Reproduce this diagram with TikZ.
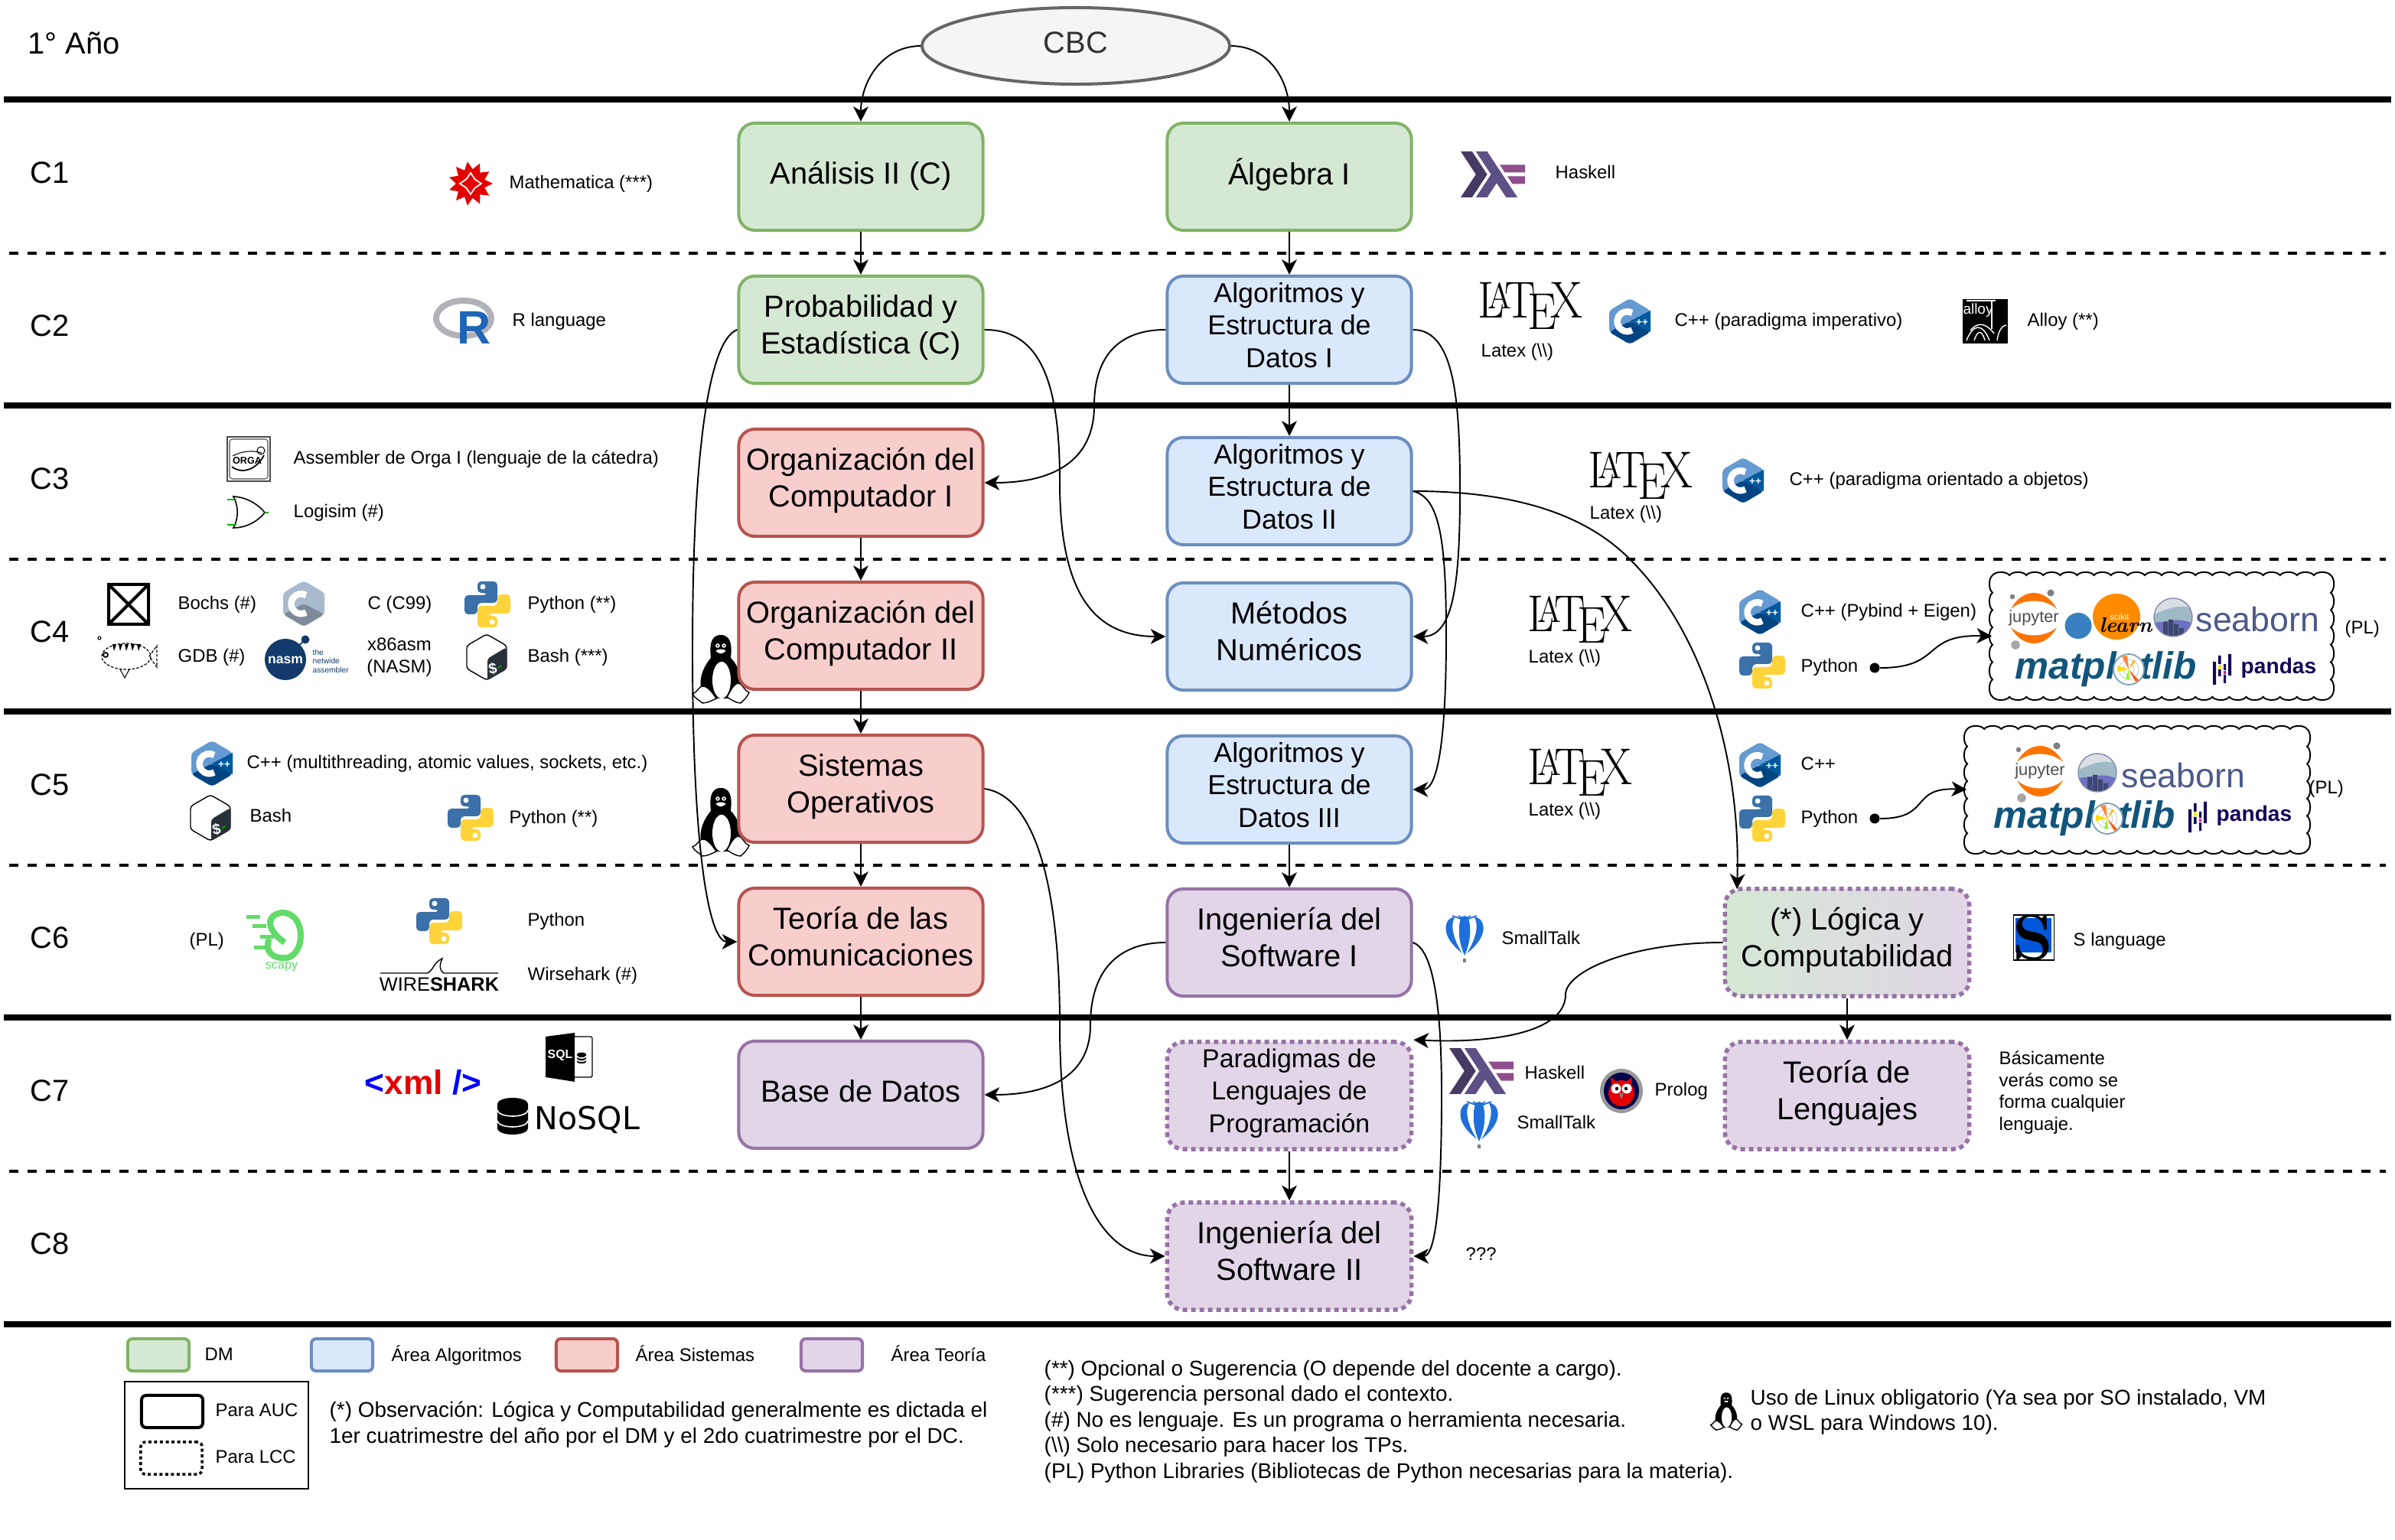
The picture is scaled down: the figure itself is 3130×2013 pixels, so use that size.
\documentclass[tikz,border=0pt]{standalone}
\usepackage{fontspec}
\setsansfont{Liberation Sans}
\newfontfamily\dejavufont{DejaVu Sans}
\renewcommand{\familydefault}{\sfdefault}
\usetikzlibrary{arrows.meta,shapes.geometric}

\definecolor{dmfill}{HTML}{D5E8D4}
\definecolor{dmline}{HTML}{82B366}
\definecolor{algofill}{HTML}{DAE8FC}
\definecolor{algoline}{HTML}{6C8EBF}
\definecolor{sisfill}{HTML}{F8CECC}
\definecolor{sisline}{HTML}{B85450}
\definecolor{teofill}{HTML}{E1D5E7}
\definecolor{teoline}{HTML}{9673A6}
\definecolor{pyblue}{HTML}{3B70A8}
\definecolor{pyyellow}{HTML}{FFD43B}
\definecolor{mplblue}{HTML}{11557C}
\definecolor{pandasblue}{HTML}{150458}
\definecolor{seacolor}{HTML}{4C5A8A}
\definecolor{cpplight}{HTML}{659AD2}
\definecolor{cppmid}{HTML}{00599C}
\definecolor{cppdark}{HTML}{004482}
\definecolor{clight}{HTML}{A9BACF}
\definecolor{cdark}{HTML}{7F8B99}
\definecolor{bashdark}{HTML}{293138}
\definecolor{haskA}{HTML}{453A62}
\definecolor{haskB}{HTML}{5E5086}
\definecolor{haskC}{HTML}{8F4E8B}
\definecolor{scapygreen}{HTML}{63DB6B}
\definecolor{rblue}{HTML}{1F65B7}
\definecolor{rgray}{HTML}{B0B2B8}
\definecolor{nasmblue}{HTML}{123A6B}
\definecolor{balloonblue}{HTML}{1E6FD9}

\newcommand{\fsbig}{\fontsize{11.33}{13.66}\selectfont}
\newcommand{\fsmid}{\fontsize{10.2}{12.1}\selectfont}
\newcommand{\fsplp}{\fontsize{9.62}{12.1}\selectfont}
\newcommand{\fsnote}{\fontsize{7.93}{9.5}\selectfont}
\newcommand{\fstool}{\fontsize{6.8}{8.2}\selectfont}
\newcommand{\boxstrut}{\rule[-.3\baselineskip]{0pt}{1.1\baselineskip}}

% hexagon with a C, used by the C and C++ logos
\newcommand{\hexC}[3]{
    \fill[#1, rounded corners=1.2pt] (0,-30) -- (27,-14) -- (27,14) -- (0,30) -- (-27,14) -- (-27,-14) -- cycle;
    \fill[#3] (27,-14) -- (27,14) -- (0,0) -- cycle;
    \fill[#2, rounded corners=1.2pt] (-27,14) -- (0,0) -- (27,14) -- (0,30) -- cycle;
    \draw[white, line width=0.085cm] (3,-11) arc (-60:-300:13);
}

% scalloped border: left, top, bumps across, step, bumps down, step
\newcommand{\scallop}[6]{
    \draw[line width=0.55pt] (#1,#2)
        \foreach \i in {1,...,#3} { .. controls +(4,-5.5) and +(-4,-5.5) .. ++(#4,0) }
        \foreach \i in {1,...,#5} { .. controls +(5.5,4) and +(5.5,-4) .. ++(0,#6) }
        \foreach \i in {1,...,#3} { .. controls +(-4,5.5) and +(4,5.5) .. ++(-#4,0) }
        \foreach \i in {1,...,#5} { .. controls +(-5.5,-4) and +(-5.5,4) .. ++(0,-#6) } -- cycle;
}

\tikzset{
    subject/.style={rectangle, rounded corners=0.21cm, line width=0.04cm, minimum width=3.19cm, minimum height=1.4cm, inner sep=0pt, align=center, font=\fsbig, execute at begin node=\strut, execute at end node=\strut},
    multi/.style={execute at begin node=\boxstrut},
    midtext/.style={multi, font=\fsmid},
    plptext/.style={multi, font=\fsplp},
    dmbox/.style={subject, draw=dmline, fill=dmfill},
    algobox/.style={subject, draw=algoline, fill=algofill},
    sisbox/.style={subject, draw=sisline, fill=sisfill},
    teobox/.style={subject, draw=teoline, fill=teofill},
    lcc/.style={line width=0.055cm, dash pattern=on 0.06cm off 0.05cm},
    flow/.style={->, line width=0.55pt, >={Stealth[length=5.6pt, width=5.6pt, inset=1.6pt]}},
    yearline/.style={line width=0.08cm},
    termline/.style={line width=0.035cm, dash pattern=on 0.12cm off 0.12cm},
    term/.style={anchor=west, inner sep=0pt, font=\fsbig},
    tool/.style={anchor=west, inner sep=0pt, yshift=-0.03cm, font=\fstool, align=left, execute at begin node=\strut, execute at end node=\strut},
    note/.style={anchor=west, inner sep=0pt, font=\fsnote, align=left},
    latexlogo/.style={inner sep=0pt, yscale=1.12, transform shape, font=\rmfamily\fontsize{17.2}{18}\selectfont},
    cloudbox/.style={minimum width=4.42cm, minimum height=1.59cm},
    startdot/.style={circle, fill=black, minimum size=0.13cm, inner sep=0pt},
    swatch/.style={rectangle, rounded corners=0.06cm, line width=0.04cm, minimum width=0.8cm, minimum height=0.42cm},
    % logos
    pythonlogo/.pic={
        \fill[pyblue, rounded corners=1.4pt] (-13,-30) -- (13,-30) -- (13,-2) -- (-13,-2) -- (-13,13) -- (-30,13) -- (-30,-12) -- (0,-12) -- (0,-15) -- (-13,-15) -- cycle;
        \fill[pyyellow, rounded corners=1.4pt] (13,30) -- (-13,30) -- (-13,2) -- (13,2) -- (13,-13) -- (30,-13) -- (30,12) -- (0,12) -- (0,15) -- (13,15) -- cycle;
        \fill[white] (-6,-23) circle [radius=3.5];
        \fill[white] (6,23) circle [radius=3.5];
    },
    cpplogo/.pic={
        \hexC{cpplight}{cppdark}{cppmid}
        \node[white, inner sep=0pt, font=\bfseries\fontsize{3.8}{4}\selectfont] at (16,2) {++};
    },
    clogo/.pic={
        \hexC{clight}{cdark}{clight}
    },
    bashlogo/.pic={
        \filldraw[fill=white, draw=black, line width=0.4pt, rounded corners=1pt] (0,-30) -- (26,-15) -- (26,15) -- (0,30) -- (-26,15) -- (-26,-15) -- cycle;
        \fill[bashdark, rounded corners=1pt] (1,30) -- (1,2) -- (26,-13) -- (26,15) -- cycle;
        \node[white, inner sep=0pt, rotate=10, font=\bfseries\fontsize{5.5}{6}\selectfont] at (8,15) {\$};
        \draw[green!70!black, line width=0.4pt] (15,14) -- (19,11);
    },
    tuxlogo/.pic={
        \fill[black] (0,-45) .. controls (-16,-45) and (-14,-25) .. (-13,-15) .. controls (-30,5) and (-30,28) .. (-18,38) -- (18,38) .. controls (30,24) and (28,0) .. (13,-15) .. controls (14,-25) and (16,-45) .. (0,-45) -- cycle;
        \fill[white] (1,14) ellipse [x radius=12, y radius=24];
        \fill[white] (-4,-31) circle [radius=2.8];
        \fill[white] (4,-31) circle [radius=2.8];
        \fill[black] (-4,-31) circle [radius=1.2];
        \fill[black] (4,-31) circle [radius=1.2];
        \filldraw[fill=white, draw=black, line width=0.4pt] (-8,-25) .. controls (0,-28) and (0,-28) .. (8,-25) .. controls (3,-18) and (-3,-18) .. (-8,-25) -- cycle;
        \filldraw[fill=white, draw=black, line width=0.4pt] (-37,32) .. controls (-30,30) and (-28,20) .. (-22,22) .. controls (-15,24) and (-10,32) .. (-6,38) .. controls (-12,41) and (-18,44) .. (-24,44) .. controls (-28,40) and (-34,38) .. (-37,32) -- cycle;
        \filldraw[fill=white, draw=black, line width=0.4pt] (37,30) .. controls (30,28) and (28,17) .. (22,18) .. controls (15,21) and (12,30) .. (8,36) .. controls (14,40) and (20,44) .. (26,44) .. controls (30,40) and (35,36) .. (37,30) -- cycle;
    },
    balloonlogo/.pic={
        \fill[balloonblue] (-3,19) .. controls (-38,-8) and (-22,-30) .. (-13,-28) .. controls (-20,-15) and (-12,5) .. (-3,19) -- cycle;
        \fill[balloonblue] (3,19) .. controls (38,-8) and (22,-30) .. (13,-28) .. controls (20,-15) and (12,5) .. (3,19) -- cycle;
        \fill[balloonblue] (0,22) .. controls (-10,0) and (-8,-20) .. (-4,-29) -- (4,-29) .. controls (8,-20) and (10,0) .. (0,22) -- cycle;
        \foreach \a in {-16,-8,0,8,16} \draw[balloonblue, line width=0.5pt] (\a,-30) -- (0,-24);
        \fill[gray] (-2,26) rectangle (2,31);
    },
    haskelllogo/.pic={
        \begin{scope}[xscale=4.94, yscale=5, shift={(-8.5,-6)}]
            \fill[haskA] (0,12) -- (4,6) -- (0,0) -- (3,0) -- (7,6) -- (3,12) -- cycle;
            \fill[haskB] (4,12) -- (8,6) -- (4,0) -- (7,0) -- (15,12) -- (12,12) -- (9.5,8.25) -- (7,12) -- cycle;
            \fill[haskC] (13.66,8.5) -- (12.33,6.5) -- (17,6.5) -- (17,8.5) -- cycle;
            \fill[haskC] (11.66,5.5) -- (10.33,3.5) -- (17,3.5) -- (17,5.5) -- cycle;
        \end{scope}
    },
    jupyterlogo/.pic={
        \fill[orange!90!red] (-30,-12) .. controls (-15,-40) and (15,-40) .. (30,-12) .. controls (15,-26) and (-15,-26) .. (-30,-12) -- cycle;
        \fill[orange!90!red] (-30,12) .. controls (-15,40) and (15,40) .. (30,12) .. controls (15,26) and (-15,26) .. (-30,12) -- cycle;
        \fill[gray] (-28,-28) circle [radius=3.3];
        \fill[gray] (22,-33) circle [radius=4.6];
        \fill[gray!70] (-24,35) circle [radius=5.8];
        \node[black!70, inner sep=0pt, font=\fontsize{6.2}{7}\selectfont] at (0,0) {jupyter};
    },
    sealogo/.pic={
        \fill[white] (0,0) circle [radius=25];
        \begin{scope}
            \clip (0,0) circle [radius=25];
            \fill[cyan!15!gray!30] (-25,-25) rectangle (25,0);
            \fill[cyan!30!gray!70] (-25,-4) .. controls (-10,-10) and (5,-18) .. (25,-12) -- (25,25) -- (-25,25) -- cycle;
            \fill[blue!40!gray!80] (-25,7) .. controls (-5,5) and (10,0) .. (25,8) -- (25,25) -- (-25,25) -- cycle;
            \fill[seacolor!80!black] (-13,6) rectangle (-7,25) (-6,3) rectangle (0,25) (1,9) rectangle (7,25) (8,14) rectangle (14,25);
        \end{scope}
        \draw[seacolor!70!white, line width=0.4pt] (0,0) circle [radius=25];
    },
    mpllogo/.pic={
        \filldraw[fill=white, draw=cyan!30!gray, line width=0.5pt] (0,0) circle [radius=20];
        \draw[gray!50, line width=0.2pt] (0,0) circle [radius=7] (0,0) circle [radius=13];
        \fill[orange!80!red!80!white] (0,0) -- (-9,-17) -- (-2,-18) -- cycle;
        \fill[yellow!80!orange] (0,0) -- (-15,-5) -- (-15,3) -- cycle;
        \fill[orange!70!red] (0,0) -- (13,14) -- (9,16) -- cycle;
        \fill[green!50!yellow] (0,0) -- (0,13) -- (-4,13) -- cycle;
        \fill[orange!60!yellow] (0,0) -- (9,-11) -- (6,-12) -- cycle;
    },
    pandaslogo/.pic={
        \fill[pandasblue] (-12,-10) rectangle (-8,20) (-5,-18) rectangle (-1.5,-7) (-5,0) rectangle (-1.5,9) (2,-7) rectangle (5,1) (2,7) rectangle (5,18) (8,-20) rectangle (12,8);
        \fill[yellow!90!orange] (-5,-6) rectangle (-1.5,-1);
        \fill[magenta] (2,2) rectangle (5,6);
    },
    dblogo/.pic={
        \fill[black] (-20,-16) arc (180:360:20 and 8) -- (20,16) arc (0:180:20 and 8) -- cycle;
        \draw[white, line width=0.45pt] (-20,-8) arc (180:0:20 and 8) (-20,6) arc (180:0:20 and 8);
    }
}

\begin{document}
\begin{tikzpicture}[x=0.01cm, y=-0.01cm]
    \useasboundingbox (0,0) rectangle (3130,2013);

    % Year and term lines
    \foreach \yy in {130, 530, 930, 1330, 1731}
        \draw[yearline] (5,\yy) -- (3125,\yy);
    \foreach \yy in {331, 731, 1131, 1531}
        \draw[termline] (12,\yy) -- (3118,\yy);

    % Terms
    \node[term] (year) at (36,56) {1° Año};
    \node[term] (c1) at (39,226) {C1};
    \node[term] (c2) at (39,426) {C2};
    \node[term] (c3) at (39,626) {C3};
    \node[term] (c4) at (39,826) {C4};
    \node[term] (c5) at (39,1026) {C5};
    \node[term] (c6) at (39,1226) {C6};
    \node[term] (c7) at (39,1426) {C7};
    \node[term] (c8) at (39,1626) {C8};

    % Logos that sit behind the boxes
    \pic at (942,875) {tuxlogo};
    \pic at (942,1075) {tuxlogo};

    % Subjects
    \node[subject, draw=black!60, fill=black!4, text=black!80, ellipse, minimum width=4.02cm, minimum height=1cm] (cbc) at (1406,60) {CBC};
    \node[dmbox] (analisis) at (1125,231) {Análisis II (C)};
    \node[dmbox] (algebra) at (1685,231) {Álgebra I};
    \node[dmbox, multi] (proba) at (1125,431) {Probabilidad y\\Estadística (C)};
    \node[algobox, midtext] (aed1) at (1685,431) {Algoritmos y\\Estructura de\\Datos I};
    \node[sisbox, multi] (orga1) at (1125,631) {Organización del\\Computador I};
    \node[algobox, midtext] (aed2) at (1685,642) {Algoritmos y\\Estructura de\\Datos II};
    \node[sisbox, multi] (orga2) at (1125,831) {Organización del\\Computador II};
    \node[algobox, multi] (metnum) at (1685,832) {Métodos\\Numéricos};
    \node[sisbox, multi] (so) at (1125,1031) {Sistemas\\Operativos};
    \node[algobox, midtext] (aed3) at (1685,1032) {Algoritmos y\\Estructura de\\Datos III};
    \node[sisbox, multi] (tc) at (1125,1231) {Teoría de las\\Comunicaciones};
    \node[teobox, multi] (is1) at (1685,1232) {Ingeniería del\\Software I};
    \node[subject, multi, draw=teoline, lcc, left color=dmfill, right color=teofill] (logica) at (2414,1232) {(*) Lógica y\\Computabilidad};
    \node[teobox] (bd) at (1125,1431) {Base de Datos};
    \node[teobox, lcc, plptext] (plp) at (1685,1432) {Paradigmas de\\Lenguajes de\\Programación};
    \node[teobox, lcc, multi] (tleng) at (2414,1432) {Teoría de\\Lenguajes};
    \node[teobox, lcc, multi] (is2) at (1685,1642) {Ingeniería del\\Software II};
    \coordinate (logicain) at (2270,1162);

    % Straight arrows
    \draw[flow] (analisis) -- (proba);
    \draw[flow] (algebra) -- (aed1);
    \draw[flow] (aed1) -- (aed2);
    \draw[flow] (orga1) -- (orga2);
    \draw[flow] (orga2) -- (so);
    \draw[flow] (so) -- (tc);
    \draw[flow] (tc) -- (bd);
    \draw[flow] (aed3) -- (is1);
    \draw[flow] (logica) -- (tleng);
    \draw[flow] (plp) -- (is2);

    % Curved arrows
    \draw[flow] (cbc.west) .. controls (1150,61) and (1125,110) .. (analisis.north);
    \draw[flow] (cbc.east) .. controls (1662,61) and (1685,110) .. (algebra.north);
    \draw[flow] (aed1.west) .. controls (1450,431) and (1430,480) .. (1430,530) .. controls (1430,600) and (1380,631) .. (orga1.east);
    \draw[flow] (proba.east) .. controls (1360,431) and (1385,500) .. (1385,630) .. controls (1385,760) and (1420,832) .. (metnum.west);
    \draw[flow] (proba.west) .. controls (925,445) and (905,600) .. (905,850) .. controls (905,1100) and (925,1231) .. (tc.west);
    \draw[flow] (aed1.east) .. controls (1900,431) and (1908,520) .. (1908,640) .. controls (1908,760) and (1900,832) .. (metnum.east);
    \draw[flow] (aed2.east) .. controls (1880,650) and (1890,700) .. (1890,830) .. controls (1890,960) and (1880,1032) .. (aed3.east);
    \draw[flow] (aed2.east) .. controls (1950,642) and (2060,660) .. (2130,731) .. controls (2230,830) and (2275,1000) .. (logicain);
    \draw[flow] (so.east) .. controls (1350,1040) and (1385,1150) .. (1385,1340) .. controls (1385,1550) and (1440,1642) .. (is2.west);
    \draw[flow] (is1.west) .. controls (1460,1232) and (1425,1270) .. (1425,1340) .. controls (1425,1400) and (1380,1431) .. (bd.east);
    \draw[flow] (is1.east) .. controls (1870,1240) and (1884,1300) .. (1884,1430) .. controls (1884,1580) and (1875,1642) .. (is2.east);
    \draw[flow] (logica.west) .. controls (2130,1232) and (2046,1270) .. (2046,1300) .. controls (2046,1350) and (1950,1364) .. (plp.north east);

    % C1
    \begin{scope}[shift={(615,240)}]
        \fill[red!90!black] (0:29) \foreach \a in {1,...,11} {-- ({\a*360/11-16.4}:19) -- ({\a*360/11}:29)} -- cycle;
        \draw[white, line width=0.5pt] (90:14) -- (45:8) -- (0:14) -- (-45:8) -- (-90:14) -- (-135:8) -- (180:14) -- (135:8) -- cycle;
    \end{scope}
    \node[tool] (tmath) at (665,238) {Mathematica (***)};
    \pic at (1951,228) {haskelllogo};
    \node[tool] (thask) at (2032,225) {Haskell};

    % C2
    \draw[rgray, line width=0.08cm] (606,416) ellipse [x radius=36, y radius=23];
    \node[inner sep=0pt, text=rblue, font=\bfseries\fontsize{17.4}{18}\selectfont] (rlogo) at (620,428) {R};
    \node[tool] (trlang) at (669,418) {R language};
    \node[latexlogo] (latex1) at (2000,400) {\rmfamily\LaTeX};
    \node[tool] (tlatex1) at (1935,458) {Latex (\textbackslash\textbackslash)};
    \pic at (2130,420) {cpplogo};
    \node[tool] (tcpp1) at (2188,418) {C++ (paradigma imperativo)};
    \fill[black] (2565,391) rectangle (2624,449);
    \node[inner sep=0pt, white, font=\fontsize{5.4}{6}\selectfont] (talloylogo) at (2585,406) {alloy};
    \draw[white, line width=0.4pt] (2570,445) .. controls (2578,425) and (2590,420) .. (2600,445) (2610,445) .. controls (2612,430) and (2618,425) .. (2622,425);
    \draw[white, line width=0.4pt] (2580,445) .. controls (2584,432) and (2590,430) .. (2594,445) (2575,432) .. controls (2582,424) and (2592,418) .. (2606,436);
    \draw[white, line width=0.6pt] (2603,393) -- (2603,430) (2570,393) -- (2608,393);
    \node[tool] (talloy) at (2649,418) {Alloy (**)};

    % C3
    \filldraw[fill=white, draw=black!70, line width=0.5pt] (297,571) rectangle (353,629);
    \draw[black!70, line width=0.3pt, rounded corners=1pt] (300,574) rectangle (350,626);
    \node[inner sep=0pt, font=\bfseries\fontsize{3.6}{4}\selectfont] (orgalogo) at (323,602) {ORGA};
    \draw[line width=0.5pt] (303,610) .. controls (315,620) and (335,615) .. (345,595);
    \draw[line width=0.3pt] (304,596) .. controls (315,590) and (330,588) .. (342,592);
    \draw[line width=0.3pt] (341,589) circle [radius=5];
    \node[tool] (torga) at (383,598) {Assembler de Orga I (lenguaje de la cátedra)};
    \draw[line width=0.45pt] (305,649) .. controls (325,650) and (340,662) .. (346,670) .. controls (340,678) and (325,690) .. (305,690) .. controls (312,677) and (312,662) .. (305,649) -- cycle;
    \draw[green!70!black, line width=0.5pt] (297,653) -- (309,653) (297,686) -- (309,686) (346,670) -- (351,670);
    \node[tool] (tlogisim) at (383,668) {Logisim (\#)};
    \node[latexlogo] (latex2) at (2144,622) {\rmfamily\LaTeX};
    \node[tool] (tlatex2) at (2077,670) {Latex (\textbackslash\textbackslash)};
    \pic at (2278,628) {cpplogo};
    \node[tool] (tcpp2) at (2338,626) {C++ (paradigma orientado a objetos)};

    % C4
    \draw[line width=0.04cm] (142,764) rectangle (194,816) (142,764) -- (194,816) (194,764) -- (142,816);
    \node[tool] (tbochs) at (232,788) {Bochs (\#)};
    \pic at (397,789) {clogo};
    \node[tool] (tc99) at (480,788) {C (C99)};
    \pic at (637,790) {pythonlogo};
    \node[tool] (tpy1) at (689,788) {Python (**)};
    \begin{scope}[shift={(165,858)}]
        \draw[line width=0.35pt, dash pattern=on 1pt off 0.6pt] (0,0) ellipse [x radius=32, y radius=17];
        \draw[line width=0.35pt, dash pattern=on 1pt off 0.6pt] (30,0) -- (40,-14) -- (40,14) -- cycle;
        \draw[line width=0.5pt] (-27,-2) circle [radius=3];
        \foreach \a in {-18,-10,-2,6,14} \fill (\a,-16) -- (\a+5,-16) -- (\a+2,-7) -- cycle;
        \draw[line width=0.3pt] (-35,-24) circle [radius=2] (-8,17) -- (-2,28) -- (4,17);
    \end{scope}
    \node[tool] (tgdb) at (232,857) {GDB (\#)};
    \fill[nasmblue] (373,862) circle [radius=27];
    \fill[nasmblue] (399,836) circle [radius=5.5];
    \draw[nasmblue, line width=0.5pt] (399,836) -- (386,848);
    \node[inner sep=0pt, white, font=\bfseries\fontsize{5}{6}\selectfont] (nasmlogo) at (373,863) {nasm};
    \node[anchor=west, inner sep=0pt, text=nasmblue, align=left, font=\fontsize{2.9}{3.3}\selectfont] (nasmtext) at (408,864) {the\\netwide\\assembler};
    \node[tool, anchor=center, align=center] (tnasm) at (522,858) {x86asm\\(NASM)};
    \pic at (636,859) {bashlogo};
    \node[tool] (tbash1) at (689,857) {Bash (***)};
    \node[latexlogo] (latex3) at (2065,810) {\rmfamily\LaTeX};
    \node[tool] (tlatex3) at (1997,858) {Latex (\textbackslash\textbackslash)};
    \pic at (2300,800) {cpplogo};
    \node[tool] (tcpp3) at (2353,798) {C++ (Pybind + Eigen)};
    \pic at (2303,870) {pythonlogo};
    \node[tool] (tpy2) at (2353,870) {Python};
    \node[tool] (tpl1) at (3064,820) {(PL)};

    % Libraries C4
    \node[cloudbox] (libsa) at (2825,831.5) {};
    \scallop{2604}{752}{20}{22.1}{7}{22.7}
    \pic at (2658,808) {jupyterlogo};
    \fill[cyan!60!blue!80!gray] (2716,818) ellipse [x radius=17.5, y radius=17];
    \fill[orange!90!yellow] (2766,806) ellipse [x radius=31, y radius=30];
    \node[inner sep=0pt, white, font=\fontsize{3.2}{4}\selectfont] (scikit) at (2770,806) {scikit};
    \node[inner sep=0pt, font=\rmfamily\bfseries\itshape\fontsize{7.8}{8}\selectfont] (learn) at (2778,817) {learn};
    \pic at (2840,807) {sealogo};
    \node[anchor=base west, inner sep=0pt, text=seacolor, font=\fontsize{12.7}{13}\selectfont] (seaa) at (2869,826) {seaborn};
    \node[inner sep=0pt, text=mplblue, anchor=west, font=\bfseries\itshape\fontsize{14.1}{15}\selectfont] (mpla) at (2633,875) {matplotlib};
    \pic at (2782,875) {mpllogo};
    \pic at (2904,875) {pandaslogo};
    \node[anchor=west, inner sep=0pt, text=pandasblue, font=\bfseries\fontsize{8}{9}\selectfont] (pana) at (2928,873) {pandas};
    \node[startdot] (dota) at (2450,873) {};
    \draw[flow] (dota) .. controls (2540,873) and (2510,829) .. (libsa.west);

    % C5
    \pic at (277,998) {cpplogo};
    \node[tool] (tcpp4) at (322,996) {C++ (multithreading, atomic values, sockets, etc.)};
    \pic at (275,1069) {bashlogo};
    \node[tool] (tbash2) at (326,1066) {Bash};
    \pic at (615,1069) {pythonlogo};
    \node[tool] (tpy3) at (665,1068) {Python (**)};
    \node[latexlogo] (latex4) at (2065,1010) {\rmfamily\LaTeX};
    \node[tool] (tlatex4) at (1997,1058) {Latex (\textbackslash\textbackslash)};
    \pic at (2300,1000) {cpplogo};
    \node[tool] (tcpp5) at (2353,998) {C++};
    \pic at (2303,1070) {pythonlogo};
    \node[tool] (tpy4) at (2353,1068) {Python};
    \node[tool] (tpl2) at (3017,1029) {(PL)};

    % Libraries C5
    \node[cloudbox, minimum width=4.44cm] (libsb) at (2793,1032) {};
    \scallop{2571}{953}{20}{22.2}{7}{22.7}
    \pic at (2666,1008) {jupyterlogo};
    \pic at (2741,1010) {sealogo};
    \node[anchor=base west, inner sep=0pt, text=seacolor, font=\fontsize{12.7}{13}\selectfont] (seab) at (2772,1030) {seaborn};
    \node[inner sep=0pt, text=mplblue, anchor=west, font=\bfseries\itshape\fontsize{14.1}{15}\selectfont] (mplb) at (2605,1070) {matplotlib};
    \pic at (2754,1070) {mpllogo};
    \pic at (2872,1068) {pandaslogo};
    \node[anchor=west, inner sep=0pt, text=pandasblue, font=\bfseries\fontsize{8}{9}\selectfont] (panb) at (2896,1066) {pandas};
    \node[startdot] (dotb) at (2450,1070) {};
    \draw[flow] (dotb) .. controls (2525,1070) and (2495,1029) .. (libsb.west);

    % C6
    \node[tool] (tpl3) at (247,1228) {(PL)};
    \begin{scope}[shift={(360,1222)}, scapygreen]
        \draw[line width=0.08cm] (12,10) .. controls (-10,-5) and (-15,-25) .. (8,-29) .. controls (40,-30) and (40,25) .. (15,30) .. controls (-5,32) and (-15,20) .. (-8,5);
        \foreach \yy/\xx in {-24/-38, -12/-30, 2/-20, 16/-28} \draw[line width=0.05cm] (\xx,\yy) -- (\xx+18,\yy);
    \end{scope}
    \node[inner sep=0pt, text=scapygreen, font=\fontsize{4.6}{5}\selectfont] (tscapy) at (368,1264) {scapy};
    \pic at (574,1204) {pythonlogo};
    \node[tool] (tpy5) at (689,1202) {Python};
    \draw[line width=0.4pt] (497,1272) -- (558,1272) .. controls (566,1270) and (566,1258) .. (578,1253) .. controls (574,1262) and (574,1268) .. (580,1272) -- (651,1272);
    \node[inner sep=0pt, font=\fontsize{7.2}{8}\selectfont] (wshark) at (574,1287) {WIRE\textbf{SHARK}};
    \node[tool] (twshark) at (689,1273) {Wirsehark (\#)};
    \pic at (1914,1227) {balloonlogo};
    \node[tool] (tst1) at (1962,1226) {SmallTalk};
    \filldraw[fill=white, draw=black, line width=0.3pt] (2631,1196) rectangle (2684,1255);
    \fill[blue!60!cyan!85!black] (2634,1200) rectangle (2681,1245);
    \node[inner sep=0pt, font=\rmfamily\bfseries\fontsize{24}{25}\selectfont] (slogo) at (2657,1226) {S};
    \node[tool] (tslang) at (2709,1228) {S language};

    % C7
    \node[anchor=base west, inner sep=0pt, font=\bfseries\fontsize{12.6}{13}\selectfont] (xmllogo) at (476,1430) {\textcolor{blue}{<}\textcolor{red!90!black}{xml} \textcolor{blue}{/>}};
    \fill[black] (713,1355) -- (751,1350) -- (751,1414) -- (713,1408) -- cycle;
    \draw[line width=0.4pt, rounded corners=0.5pt] (751,1355) -- (774,1355) -- (774,1408) -- (751,1408);
    \node[inner sep=0pt, white, font=\bfseries\fontsize{4.5}{5}\selectfont] (sqllogo) at (732,1380) {SQL};
    \pic[scale=0.3] at (760,1383) {dblogo};
    \pic at (670,1459) {dblogo};
    \node[anchor=west, inner sep=0pt, font=\dejavufont\fontsize{11.7}{12}\selectfont] (nosql) at (698,1464) {NoSQL};
    \pic at (1936,1400) {haskelllogo};
    \node[tool] (thask2) at (1992,1402) {Haskell};
    \pic at (1933,1470) {balloonlogo};
    \node[tool] (tst2) at (1982,1467) {SmallTalk};
    \begin{scope}[shift={(2119,1426)}]
        \fill[gray!80] (0,0) ellipse [x radius=28, y radius=29];
        \fill[blue!30!black] (0,0) ellipse [x radius=23, y radius=24];
        \fill[red!90!black] (0,3) ellipse [x radius=17, y radius=17];
        \fill[red!90!black] (-14,-18) -- (-6,-12) -- (6,-12) -- (14,-18) -- (12,0) -- (-12,0) -- cycle;
        \fill[white] (-7,-3) circle [radius=6.5] (7,-3) circle [radius=6.5];
        \fill[black] (-6,-3) circle [radius=2.2] (6,-3) circle [radius=2.2];
        \fill[gray] (-3,3) -- (3,3) -- (0,11) -- cycle;
    \end{scope}
    \node[tool] (tprolog) at (2162,1424) {Prolog};
    \node[tool] (tleng2) at (2612,1427) {Básicamente\\verás como se\\forma cualquier\\lenguaje.};

    % C8
    \node[tool] (tunk) at (1915,1639) {???};

    % Legend
    \node[swatch, draw=dmline, fill=dmfill] (legdm) at (207,1771) {};
    \node[tool] (tdm) at (267,1770) {DM};
    \node[swatch, draw=algoline, fill=algofill] (legalgo) at (447,1771) {};
    \node[tool] (talgo) at (511,1770) {Área Algoritmos};
    \node[swatch, draw=sisline, fill=sisfill] (legsis) at (767,1771) {};
    \node[tool] (tsis) at (830,1770) {Área Sistemas};
    \node[swatch, draw=teoline, fill=teofill] (legteo) at (1087,1771) {};
    \node[tool] (tteo) at (1164,1770) {Área Teoría};
    \draw[line width=0.025cm] (163,1806) rectangle (403,1946);
    \node[swatch, draw=black] (legauc) at (225,1845) {};
    \node[tool] (tauc) at (281,1843) {Para AUC};
    \node[swatch, draw=black, lcc, line width=0.035cm, dash pattern=on 0.04cm off 0.035cm] (leglcc) at (224,1906) {};
    \node[tool] (tlcc) at (281,1904) {Para LCC};
    \node[note] (tobs) at (430,1862) {(*) Observación: Lógica y Computabilidad generalmente es dictada el\\1er cuatrimestre del año por el DM y el 2do cuatrimestre por el DC.};
    \node[note] (tnotes) at (1364,1858) {(**) Opcional o Sugerencia (O depende del docente a cargo).\\(***) Sugerencia personal dado el contexto.\\(\#) No es lenguaje. Es un programa o herramienta necesaria.\\(\textbackslash\textbackslash) Solo necesario para hacer los TPs.\\(PL) Python Libraries (Bibliotecas de Python necesarias para la materia).};
    \pic[scale=0.55] at (2256,1845) {tuxlogo};
    \node[note] (tlinux) at (2287,1846) {Uso de Linux obligatorio (Ya sea por SO instalado, VM\\o WSL para Windows 10).};
\end{tikzpicture}
\end{document}
